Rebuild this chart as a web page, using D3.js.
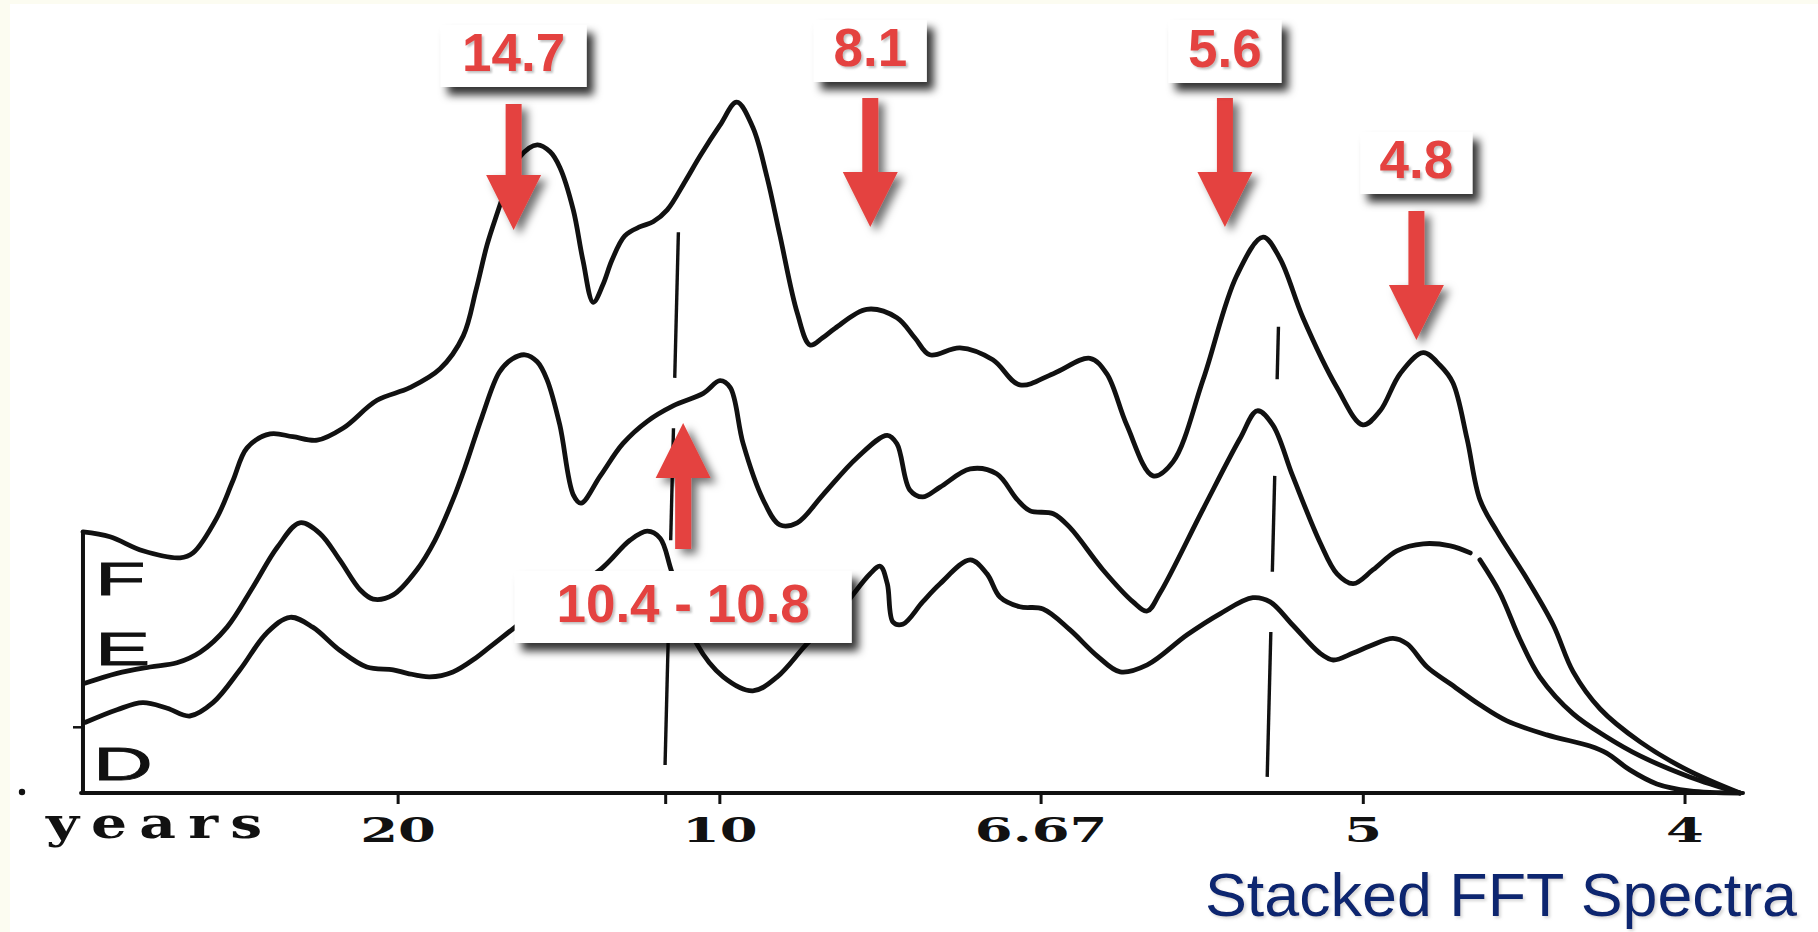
<!DOCTYPE html>
<html>
<head>
<meta charset="utf-8">
<script src="https://cdn.jsdelivr.net/npm/d3@7"></script>
<style>
  html, body { margin: 0; padding: 0; background: #ffffff; overflow: hidden; }
  svg { display: block; }
</style>
</head>
<body>
<svg id="chart" width="1818" height="932"></svg>
<script>
// ---- Data -------------------------------------------------------------
// Frequency axis in cycles per year; the tick labels give the period in years.
const tickPeriods = [20, 10, 6.67, 5, 4];
const tickLabels = ["20", "10", "6.67", "5", "4"];
const axisTitle = "years";
const seriesNames = ["F", "E", "D"];

// Spectrum F (top trace): [frequency (1/yr), power (relative units)]
const spectrumF = [
  [0.0011, 37.3], [0.0053, 36.6], [0.0104, 34.6], [0.0162, 33.6], [0.0182, 34.3],
  [0.0219, 39.3], [0.0244, 44.6], [0.0266, 49.3], [0.0302, 51.3], [0.0337, 50.9],
  [0.0375, 50.4], [0.0415, 52.1], [0.0468, 56.1], [0.0519, 57.9], [0.0566, 60.6],
  [0.0602, 65.3], [0.0622, 71.9], [0.0639, 78.3], [0.0654, 82.6], [0.0672, 87.3],
  [0.0690, 90.9], [0.0717, 92.6], [0.0737, 91.6], [0.0752, 89.4], [0.0773, 83.3],
  [0.0788, 76.1], [0.0804, 70.1], [0.0819, 72.6], [0.0833, 76.1], [0.0853, 79.6],
  [0.0877, 80.9], [0.0897, 81.6], [0.0919, 83.3], [0.0947, 87.4], [0.0970, 91.0],
  [0.1001, 95.4], [0.1027, 98.7], [0.1052, 95.1], [0.1074, 88.0], [0.1094, 79.7],
  [0.1121, 68.6], [0.1141, 64.0], [0.1160, 65.0], [0.1180, 66.4], [0.1229, 69.1],
  [0.1276, 67.9], [0.1304, 65.0], [0.1327, 62.6], [0.1374, 63.6], [0.1425, 61.9],
  [0.1467, 58.3], [0.1519, 59.9], [0.1576, 62.1], [0.1602, 59.9], [0.1633, 52.6],
  [0.1674, 45.3], [0.1705, 47.3], [0.1752, 59.1], [0.1804, 73.9], [0.1845, 79.4],
  [0.1871, 76.4], [0.1907, 67.9], [0.1960, 57.9], [0.2000, 52.6], [0.2027, 54.6],
  [0.2058, 59.9], [0.2094, 62.9], [0.2120, 61.1], [0.2140, 58.6], [0.2162, 50.6],
  [0.2182, 41.9], [0.2209, 37.3], [0.2255, 30.6], [0.2296, 24.0], [0.2327, 17.3],
  [0.2369, 12.0], [0.2431, 7.3], [0.2504, 3.3], [0.2586, 0]
];

// Spectrum E (middle trace); the null marks a break in the pen line.
const spectrumE = [
  [0.0015, 15.7], [0.0064, 17.1], [0.0115, 18.0], [0.0157, 18.6], [0.0193, 20.1],
  [0.0235, 23.7], [0.0275, 29.4], [0.0313, 35.1], [0.0348, 38.6], [0.0379, 37.1],
  [0.0410, 33.3], [0.0442, 29.0], [0.0462, 27.7], [0.0493, 28.3], [0.0530, 31.9],
  [0.0558, 36.1], [0.0586, 41.9], [0.0605, 46.6], [0.0631, 53.7], [0.0658, 60.1],
  [0.0678, 62.0], [0.0698, 62.6], [0.0717, 61.6], [0.0732, 59.1], [0.0752, 52.6],
  [0.0773, 42.6], [0.0785, 41.4], [0.0815, 45.3], [0.0850, 49.9], [0.0888, 53.1],
  [0.0928, 55.3], [0.0975, 57.1], [0.1001, 58.9], [0.1017, 57.9], [0.1037, 49.9],
  [0.1068, 41.9], [0.1094, 38.3], [0.1121, 38.6], [0.1161, 42.6], [0.1214, 47.9],
  [0.1261, 51.1], [0.1276, 49.9], [0.1296, 43.3], [0.1316, 42.3], [0.1343, 43.7],
  [0.1390, 46.3], [0.1431, 45.6], [0.1463, 41.9], [0.1483, 40.3], [0.1519, 39.9],
  [0.1545, 37.9], [0.1596, 31.9], [0.1643, 27.3], [0.1665, 26.0], [0.1685, 28.6],
  [0.1752, 40.6], [0.1809, 50.6], [0.1836, 54.6], [0.1860, 52.6], [0.1891, 45.3],
  [0.1933, 35.9], [0.1960, 31.3], [0.1985, 29.9], [0.2016, 31.9], [0.2053, 34.6],
  [0.2094, 35.6], [0.2136, 35.3], [0.2167, 34.3], [0.2175, null], [0.2182, 33.3],
  [0.2213, 28.6], [0.2244, 22.0], [0.2275, 16.6], [0.2327, 11.3], [0.2379, 8.0],
  [0.2431, 5.3], [0.2508, 2.3], [0.2586, 0]
];

// Spectrum D (bottom trace)
const spectrumD = [
  [0.0015, 10.1], [0.0064, 11.9], [0.0104, 12.9], [0.0142, 12.1], [0.0177, 11.0],
  [0.0213, 12.9], [0.0255, 17.6], [0.0297, 22.9], [0.0333, 25.1], [0.0368, 23.7],
  [0.0410, 20.4], [0.0452, 18.0], [0.0493, 17.6], [0.0515, 17.1], [0.0550, 16.6],
  [0.0586, 17.3], [0.0623, 19.4], [0.0644, 20.9], [0.0729, 26.9], [0.0815, 31.9],
  [0.0861, 36.1], [0.0888, 37.4], [0.0908, 36.4], [0.0926, 31.6], [0.0965, 21.3],
  [0.1006, 16.6], [0.1052, 14.6], [0.1090, 16.6], [0.1136, 21.3], [0.1187, 26.0],
  [0.1234, 31.3], [0.1250, 32.4], [0.1261, 29.9], [0.1270, 24.4], [0.1285, 24.1],
  [0.1316, 27.3], [0.1343, 29.9], [0.1390, 33.3], [0.1416, 31.3], [0.1436, 28.0],
  [0.1467, 26.6], [0.1503, 26.3], [0.1545, 23.3], [0.1587, 19.6], [0.1623, 17.3],
  [0.1665, 18.3], [0.1727, 22.6], [0.1778, 25.6], [0.1829, 27.9], [0.1856, 27.3],
  [0.1891, 24.0], [0.1933, 20.0], [0.1954, 19.0], [0.1985, 20.0], [0.2011, 21.0],
  [0.2047, 22.1], [0.2069, 21.3], [0.2100, 18.0], [0.2136, 15.6], [0.2182, 12.6],
  [0.2224, 10.3], [0.2286, 8.3], [0.2353, 6.7], [0.2379, 5.7], [0.2415, 3.3],
  [0.2457, 1.3], [0.2508, 0.3], [0.2586, 0]
];

// Vertical reference lines (period in years) and their drawn pieces [top, bottom] in power units
const guidePeriods = [10.8, 5.37];
const guideSegments = [
  [[80.1, 59.3], [52.1, 36.1], [29.0, 4.0]],
  [[66.6, 59.1], [45.3, 31.6], [23.0, 2.3]]
];

// Highlighted periods (years)
const calloutLabels = ["14.7", "8.1", "5.6", "4.8", "10.4 - 10.8"];
const calloutPeriods = [[14.7], [8.1], [5.6], [4.8], [10.4, 10.8]];

const titleText = "Stacked FFT Spectra";

// ---- Layout -----------------------------------------------------------
const W = 1818, H = 932;
const svg = d3.select("#chart");
const RED = "#e4433f";
const INK = "#111111";

const x = d3.scaleLinear().domain([0, 0.26]).range([75.9, 75.9 + 0.26 * 6434.5]);
const y = d3.scaleLinear().domain([0, 100]).range([793, 93]);

// callout boxes/arrows: vertical placement in px
const calloutLayout = [
  { dir: "down", boxTop: 25,  boxH: 62, boxW: 146, arrowEnd: 104, tip: 230 },
  { dir: "down", boxTop: 20,  boxH: 62, boxW: 113, arrowEnd: 98,  tip: 227 },
  { dir: "down", boxTop: 20,  boxH: 63, boxW: 113, arrowEnd: 98,  tip: 227 },
  { dir: "down", boxTop: 132, boxH: 62, boxW: 112, arrowEnd: 211, tip: 340 },
  { dir: "up",   boxTop: 571, boxH: 72, boxW: 337, arrowEnd: 549, tip: 423 }
];

// ---- Filters ----------------------------------------------------------
const defs = svg.append("defs");
const mkShadow = (id, dx, dy, sd, color, op) => {
  const f = defs.append("filter").attr("id", id)
    .attr("x", "-30%").attr("y", "-30%").attr("width", "170%").attr("height", "180%");
  f.append("feDropShadow").attr("dx", dx).attr("dy", dy).attr("stdDeviation", sd)
    .attr("flood-color", color).attr("flood-opacity", op);
};
mkShadow("boxShadow", 7, 8, 4, "#000", 0.8);
mkShadow("arrowShadow", 6, 5, 4, "#000", 0.55);
mkShadow("textShadow", 2, 2, 1, "#777", 0.45);
mkShadow("titleShadow", 2, 2, 1.5, "#888", 0.35);

// ---- Background -------------------------------------------------------
svg.append("rect").attr("width", W).attr("height", H).attr("fill", "#ffffff");
svg.append("rect").attr("x", 0).attr("y", 0).attr("width", 10).attr("height", H).attr("fill", "#fcfcf1");
svg.append("rect").attr("x", 0).attr("y", 0).attr("width", W).attr("height", 4).attr("fill", "#fcfcf1");

// ---- Axes -------------------------------------------------------------
const plot = svg.append("g");
const fStart = spectrumF[0][0];
const fEnd = 0.2591;

// baseline
plot.append("line")
  .attr("x1", x(fStart) - 2).attr("x2", x(fEnd))
  .attr("y1", y(0)).attr("y2", y(0))
  .attr("stroke", INK).attr("stroke-width", 3.8).attr("stroke-linecap", "round");

// left edge of the stack
plot.append("line")
  .attr("x1", x(fStart)).attr("x2", x(fStart))
  .attr("y1", y(0) + 1).attr("y2", y(spectrumF[0][1]))
  .attr("stroke", INK).attr("stroke-width", 4);

// small tick at the start of D and the stray dot at the axis end
plot.append("line")
  .attr("x1", x(fStart) - 10).attr("x2", x(fStart))
  .attr("y1", y(spectrumD[0][1]) + 5).attr("y2", y(spectrumD[0][1]) + 5)
  .attr("stroke", INK).attr("stroke-width", 2.5);
plot.append("circle").attr("cx", 22).attr("cy", y(0) - 1).attr("r", 3.2).attr("fill", INK);

// ticks and period labels
const axis = d3.axisBottom(x)
  .tickValues(tickPeriods.map(p => 1 / p))
  .tickFormat((d, i) => tickLabels[i])
  .tickSize(11)
  .tickSizeOuter(0);
const axisG = plot.append("g").attr("transform", `translate(0,${y(0)})`).call(axis);
axisG.select(".domain").remove();
axisG.selectAll(".tick line").attr("stroke", INK).attr("stroke-width", 3);
axisG.selectAll(".tick text")
  .attr("y", 49).attr("dy", 0)
  .attr("fill", INK)
  .attr("font-family", "'DejaVu Serif', serif")
  .attr("font-weight", "bold")
  .attr("font-size", 34)
  .attr("transform", "scale(1.6,1)");

// extra tick under the first reference line
plot.append("line")
  .attr("x1", x(1 / guidePeriods[0]) - 6).attr("x2", x(1 / guidePeriods[0]) - 6)
  .attr("y1", y(0)).attr("y2", y(0) + 11)
  .attr("stroke", INK).attr("stroke-width", 3);

// axis title
plot.append("text")
  .attr("transform", `translate(46,838) scale(1.35,1)`)
  .attr("font-family", "'DejaVu Serif', serif")
  .attr("font-weight", "bold")
  .attr("font-size", 42)
  .attr("letter-spacing", 9)
  .attr("fill", INK)
  .text(axisTitle);

// ---- Spectra ----------------------------------------------------------
const line = d3.line()
  .defined(d => d[1] != null)
  .x(d => x(d[0]))
  .y(d => y(d[1]))
  .curve(d3.curveCatmullRom.alpha(0.5));

[spectrumF, spectrumE, spectrumD].forEach(s => {
  plot.append("path")
    .attr("d", line(s))
    .attr("fill", "none")
    .attr("stroke", INK)
    .attr("stroke-width", 4.8)
    .attr("stroke-linejoin", "round")
    .attr("stroke-linecap", "round");
});

// trace letters
const letterPos = [[95, 595], [95, 665], [93, 780]];
seriesNames.forEach((n, i) => {
  plot.append("text")
    .attr("transform", `translate(${letterPos[i][0]},${letterPos[i][1]}) scale(1.8,1)`)
    .attr("font-family", "'Liberation Sans', Arial, sans-serif")
    .attr("font-size", 46)
    .attr("fill", INK)
    .attr("stroke", INK)
    .attr("stroke-width", 0.8)
    .text(n);
});

// ---- Reference lines ----------------------------------------------------
const lean = 0.025;
guidePeriods.forEach((p, i) => {
  const xc = x(1 / p);
  guideSegments[i].forEach(([top, bot]) => {
    const y1 = y(top), y2 = y(bot);
    plot.append("line")
      .attr("x1", xc + lean * (500 - y1)).attr("y1", y1)
      .attr("x2", xc + lean * (500 - y2)).attr("y2", y2)
      .attr("stroke", INK).attr("stroke-width", 3.4);
  });
});

// ---- Callouts -----------------------------------------------------------
const HEAD_W = 55, HEAD_L = 55, SHAFT_W = 16;
calloutPeriods.forEach((ps, i) => {
  const L = calloutLayout[i];
  const cx = x(d3.mean(ps, p => 1 / p));
  const g = svg.append("g");

  // arrow
  const hb = L.dir === "down" ? L.tip - HEAD_L : L.tip + HEAD_L;
  const pts = [[cx - SHAFT_W / 2, L.arrowEnd], [cx + SHAFT_W / 2, L.arrowEnd], [cx + SHAFT_W / 2, hb],
               [cx + HEAD_W / 2, hb], [cx, L.tip], [cx - HEAD_W / 2, hb], [cx - SHAFT_W / 2, hb]];
  g.append("path")
    .attr("d", "M" + pts.map(p => p.join(",")).join("L") + "Z")
    .attr("fill", RED)
    .attr("filter", "url(#arrowShadow)");

  // box
  g.append("rect")
    .attr("x", cx - L.boxW / 2).attr("y", L.boxTop)
    .attr("width", L.boxW).attr("height", L.boxH)
    .attr("fill", "#ffffff")
    .attr("filter", "url(#boxShadow)");

  g.append("text")
    .attr("x", cx).attr("y", L.boxTop + L.boxH / 2 + 15)
    .attr("text-anchor", "middle")
    .attr("font-family", "'Liberation Sans', Arial, sans-serif")
    .attr("font-weight", "bold")
    .attr("font-size", 53)
    .attr("fill", RED)
    .attr("filter", "url(#textShadow)")
    .text(calloutLabels[i]);
});

// ---- Title --------------------------------------------------------------
svg.append("text")
  .attr("x", 1797).attr("y", 916)
  .attr("text-anchor", "end")
  .attr("font-family", "'Liberation Sans', Arial, sans-serif")
  .attr("font-size", 62)
  .attr("textLength", 592)
  .attr("lengthAdjust", "spacingAndGlyphs")
  .attr("fill", "#0a256f")
  .attr("filter", "url(#titleShadow)")
  .text(titleText);
</script>
</body>
</html>
